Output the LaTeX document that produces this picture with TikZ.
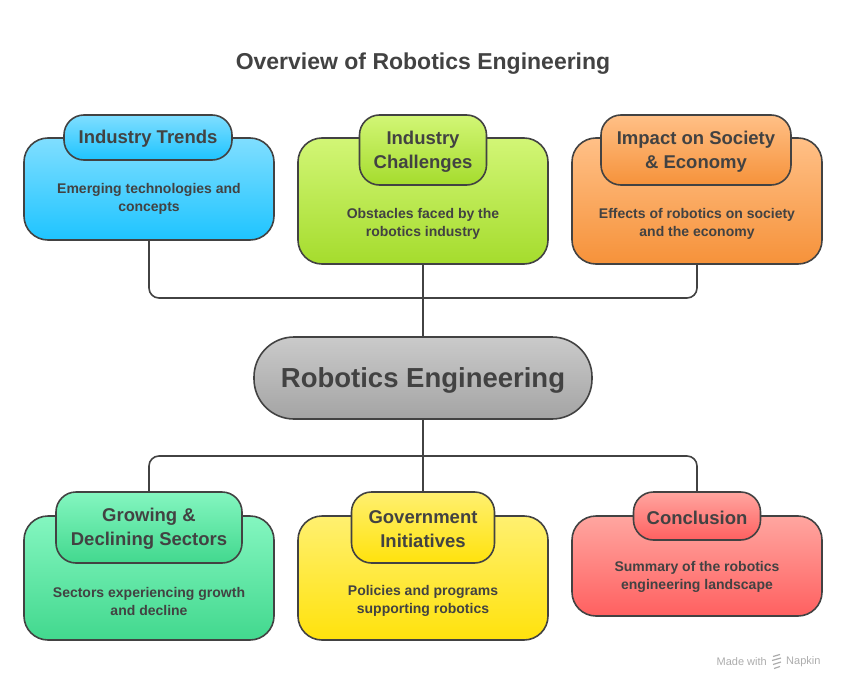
\documentclass[tikz,border=0pt]{standalone}
\usepackage{fontspec}
\setmainfont{Liberation Sans}
\definecolor{ink}{RGB}{66,66,66}
\definecolor{bluet}{RGB}{128,222,255}\definecolor{blueb}{RGB}{30,196,255}
\definecolor{greent}{RGB}{210,246,118}\definecolor{greenb}{RGB}{165,220,45}
\definecolor{oranget}{RGB}{255,192,135}\definecolor{orangeb}{RGB}{246,146,58}
\definecolor{grayt}{RGB}{202,202,202}\definecolor{grayb}{RGB}{164,164,164}
\definecolor{mintt}{RGB}{132,246,192}\definecolor{mintb}{RGB}{66,216,142}
\definecolor{yellowt}{RGB}{255,240,112}\definecolor{yellowb}{RGB}{255,226,12}
\definecolor{redt}{RGB}{255,166,160}\definecolor{redb}{RGB}{255,96,96}
\definecolor{napkin}{RGB}{172,172,172}
\begin{document}
\begin{tikzpicture}[x=1pt,y=-1pt,
  box/.style={draw=ink, line width=1.6pt, rounded corners=24pt, inner sep=0pt},
  tabbox/.style={draw=ink, line width=1.6pt, rounded corners=20pt, inner sep=0pt,
     text=ink, font=\bfseries\fontsize{18.5}{24}\selectfont, align=center},
  tabtext/.style={text=ink, font=\bfseries\fontsize{18.5}{24}\selectfont, align=center, inner sep=0pt},
  desc/.style={text=ink, font=\bfseries\fontsize{14}{18}\selectfont, align=center, inner sep=0pt},
  conn/.style={draw=ink, line width=1.6pt, rounded corners=10pt}]
\useasboundingbox (0,0) rectangle (846,690);
% boxes
\node[box, top color=bluet, bottom color=blueb, minimum width=250pt, minimum height=102pt] (box1) at (149,189) {};
\node[box, top color=greent, bottom color=greenb, minimum width=250pt, minimum height=126pt] (box2) at (423,201) {};
\node[box, top color=oranget, bottom color=orangeb, minimum width=250pt, minimum height=126pt] (box3) at (697,201) {};
\node[box, top color=mintt, bottom color=mintb, minimum width=250pt, minimum height=124pt] (box4) at (149,578) {};
\node[box, top color=yellowt, bottom color=yellowb, minimum width=250pt, minimum height=124pt] (box5) at (423,578) {};
\node[box, top color=redt, bottom color=redb, minimum width=250pt, minimum height=100pt] (box6) at (697,566) {};
% center
\node[draw=ink, line width=1.6pt, rounded corners=40pt, top color=grayt, bottom color=grayb,
  minimum width=338pt, minimum height=82pt, inner sep=0pt] (center) at (423,378) {};
\node[text=ink, inner sep=0pt, font=\bfseries\fontsize{27.5}{32}\selectfont] (centertext) at (423,380) {Robotics Engineering};
% junctions
\coordinate (jt) at (423,298);
\coordinate (jb) at (423,456);
% tabs
\node[tabbox, top color=bluet, bottom color=blueb, minimum width=168pt, minimum height=45pt] (tab1) at (148,137.5) {};
\node[tabbox, top color=greent, bottom color=greenb, minimum width=127pt, minimum height=70pt] (tab2) at (423,150) {};
\node[tabbox, top color=oranget, bottom color=orangeb, minimum width=190pt, minimum height=70pt] (tab3) at (696,150) {};
\node[tabbox, top color=mintt, bottom color=mintb, minimum width=186pt, minimum height=71pt] (tab4) at (149,527.5) {};
\node[tabbox, top color=yellowt, bottom color=yellowb, minimum width=143pt, minimum height=71pt] (tab5) at (423,527.5) {};
\node[tabbox, top color=redt, bottom color=redb, minimum width=127pt, minimum height=48pt] (tab6) at (697,516) {};
\node[tabtext] (t1) at (148,139) {Industry Trends};
\node[tabtext] (t2) at (423,151.5) {Industry\\Challenges};
\node[tabtext] (t3) at (696,151.5) {Impact on Society\\\& Economy};
\node[tabtext] (t4) at (149,529) {Growing \&\\Declining Sectors};
\node[tabtext] (t5) at (423,529) {Government\\Initiatives};
\node[tabtext] (t6) at (697,517.5) {Conclusion};
\draw[conn] (box1.south) |- (jt) -| (box3.south);
\draw[conn] (box2.south) -- (center.north);
\draw[conn] (tab4.north) |- (jb) -| (tab6.north);
\draw[conn] (center.south) -- (tab5.north);
% descriptions
\node[desc] (d1) at (149,199) {Emerging technologies and\\concepts};
\node[desc] (d2) at (423,224) {Obstacles faced by the\\robotics industry};
\node[desc] (d3) at (697,224) {Effects of robotics on society\\and the economy};
\node[desc] (d4) at (149,601) {Sectors experiencing growth\\and decline};
\node[desc] (d5) at (423,601) {Policies and programs\\supporting robotics};
\node[desc] (d6) at (697,577) {Summary of the robotics\\engineering landscape};
% title
\node[text=ink, font=\bfseries\fontsize{23}{27}\selectfont] (title) at (423,64) {Overview of Robotics Engineering};
% footer
\node[text=napkin, font=\fontsize{11}{12}\selectfont, anchor=east, inner sep=0pt] (made) at (767,662) {Made with};
\node[text=napkin, font=\fontsize{11}{12}\selectfont, anchor=west, inner sep=0pt] (napk) at (786,662) {Napkin};
\draw[napkin, line width=1.2pt] (773,656.5) -- (780,654.5) (772,660.5) -- (781,658) (773,664.5) -- (781,662) (774,668.5) -- (780,666.5);
\end{tikzpicture}
\end{document}
